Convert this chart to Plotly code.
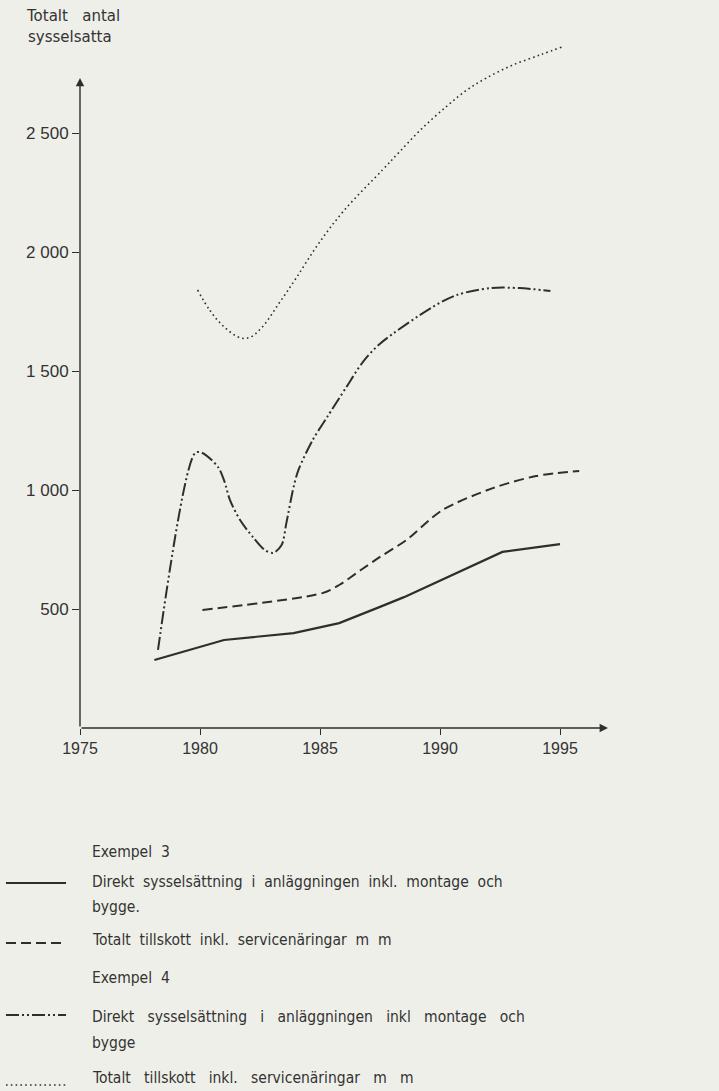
import plotly.graph_objects as go

# ---------------- data ----------------
ex3_direct_years = [1978.1, 1981.0, 1983.9, 1985.8, 1987.5, 1988.5, 1992.6, 1995.0]
ex3_direct_vals = [286, 370, 399, 441, 509, 550, 740, 773]

ex3_total_years = [1980.1, 1985.1, 1985.8, 1986.7, 1987.5, 1988.6, 1990.1, 1992.2, 1994.0, 1995.8]
ex3_total_vals = [496, 567, 601, 664, 719, 790, 916, 1008, 1059, 1080]

ex4_direct_years = [1978.25, 1979.8, 1980.1, 1980.75, 1981.0, 1981.25, 1981.67, 1982.2,
                    1982.7, 1983.05, 1983.4, 1983.6, 1983.9, 1984.1, 1984.7, 1985.3,
                    1986.1, 1986.8, 1987.5, 1989.7, 1990.7, 1992.1, 1993.3, 1994.6]
ex4_direct_vals = [328, 1156, 1156, 1097, 1042, 958, 874, 803,
                   748, 736, 769, 862, 1013, 1084, 1211, 1307,
                   1433, 1540, 1615, 1770, 1820, 1849, 1849, 1837]

ex4_total_years = [1979.9, 1980.4, 1981.0, 1981.7, 1982.1, 1982.6, 1983.3, 1984.0,
                   1984.9, 1986.0, 1987.6, 1988.3, 1989.2, 1990.3, 1991.1, 1991.9,
                   1993.0, 1994.2, 1995.1]
ex4_total_vals = [1841, 1757, 1686, 1639, 1643, 1686, 1786, 1890,
                  2030, 2175, 2345, 2420, 2515, 2615, 2680, 2730,
                  2785, 2830, 2863]

x_tick_vals = [1975, 1980, 1985, 1990, 1995]
x_tick_text = ["1975", "1980", "1985", "1990", "1995"]
y_tick_vals = [500, 1000, 1500, 2000, 2500]
y_tick_text = ["500", "1 000", "1 500", "2 000", "2 500"]

y_title_lines = ["Totalt antal", "sysselsatta"]
group_titles = ["Exempel 3", "Exempel 4"]
series_names = [
    "Direkt sysselsättning i anläggningen inkl. montage och",
    "Totalt tillskott inkl. servicenäringar m m",
    "Direkt sysselsättning i anläggningen inkl montage och",
    "Totalt tillskott inkl. servicenäringar m m",
]
name_continuation = ["bygge.", None, "bygge", None]

# ---------------- styling ----------------
BG = "#efefe9"
INK = "#2e2e2e"
TXT = "#333333"
FONT = "Liberation Sans"
LFONT = "DejaVu Sans Condensed, Liberation Sans Narrow, Liberation Sans, sans-serif"
TFONT = "DejaVu Sans, sans-serif"
gap_counts = [2, 2, 3, 3]  # word gaps (in spaces) of the typewritten legend rows

styles = [
    dict(width=2.2, dash="solid", shape="linear", smoothing=None),
    dict(width=2.0, dash="10px,5px", shape="spline", smoothing=0.8),
    dict(width=2.0, dash="13px,3px,2px,3px,2px,3px", shape="spline", smoothing=0.85),
    dict(width=1.6, dash="1.6px,3.2px", shape="spline", smoothing=1.0),
]
series = [
    (ex3_direct_years, ex3_direct_vals),
    (ex3_total_years, ex3_total_vals),
    (ex4_direct_years, ex4_direct_vals),
    (ex4_total_years, ex4_total_vals),
]

# plot-area geometry (pixels)
W, H = 719, 1091
PL, PR, PT, PB = 80, 632, 38, 728
PW, PH = PR - PL, PB - PT


def px_x(px):
    return (px - PL) / PW


def px_y(py):
    return (PB - py) / PH


def spaced(s, n=2):
    return s.replace(" ", "\u00a0" * (n - 1) + " ")


fig = go.Figure()
for (xs, ys), st, nm in zip(series, styles, series_names):
    line = dict(color=INK, width=st["width"], dash=st["dash"], shape=st["shape"])
    if st["smoothing"] is not None:
        line["smoothing"] = st["smoothing"]
    fig.add_trace(go.Scatter(x=xs, y=ys, mode="lines", name=nm, showlegend=False,
                             line=line, hoverinfo="skip"))

annotations = []
shapes = []

# axis arrows
annotations.append(dict(x=1997.0, y=0, ax=1975, ay=0, xref="x", yref="y", axref="x", ayref="y",
                        text="", showarrow=True, arrowhead=2, arrowsize=1.2, arrowwidth=1.4,
                        arrowcolor=INK, standoff=0, startstandoff=0))
annotations.append(dict(x=1975, y=2732, ax=1975, ay=0, xref="x", yref="y", axref="x", ayref="y",
                        text="", showarrow=True, arrowhead=2, arrowsize=1.2, arrowwidth=1.4,
                        arrowcolor=INK, standoff=0, startstandoff=0))

# y-axis title (two lines)
for txt, xl, yc in zip(y_title_lines, [24, 26], [16, 37]):
    annotations.append(dict(x=px_x(xl), y=px_y(yc), xref="paper", yref="paper",
                            text=spaced(txt, 3),
                            showarrow=False, xanchor="left", yanchor="middle",
                            font=dict(family=TFONT, size=15, color=TXT)))

# legend (drawn as key lines + text)
TEXT_X = 90
rows = [
    ("title", group_titles[0], 852),
    ("item", 0, 882),
    ("cont", 0, 907),
    ("item", 1, 940),
    ("title", group_titles[1], 978),
    ("item", 2, 1017),
    ("cont", 2, 1043),
    ("item", 3, 1078),
]
key_y = {0: 883, 1: 943, 2: 1015, 3: 1085}
for kind, ref, yc in rows:
    n = 2
    if kind == "title":
        txt = ref
    elif kind == "item":
        txt = series_names[ref]
        n = gap_counts[ref]
        st = styles[ref]
        shapes.append(dict(type="line", xref="paper", yref="paper",
                           x0=px_x(6), x1=px_x(66), y0=px_y(key_y[ref]), y1=px_y(key_y[ref]),
                           line=dict(color=INK, width=st["width"], dash=st["dash"])))
    else:
        txt = name_continuation[ref]
    annotations.append(dict(x=px_x(TEXT_X), y=px_y(yc), xref="paper", yref="paper",
                            text=spaced(txt, n),
                            showarrow=False, xanchor="left", yanchor="middle",
                            font=dict(family=LFONT, size=15.5, color=TXT)))

fig.update_layout(
    width=W, height=H,
    margin=dict(l=PL, r=W - PR, t=PT, b=H - PB, pad=0),
    paper_bgcolor=BG, plot_bgcolor=BG,
    showlegend=False,
    font=dict(family=FONT, color=TXT),
    xaxis=dict(range=[1975, 1998], tickvals=x_tick_vals, ticktext=x_tick_text,
               ticks="outside", ticklen=6, tickwidth=1.2, tickcolor=INK,
               showgrid=False, zeroline=False, showline=False,
               tickfont=dict(family=FONT, size=16, color=TXT)),
    yaxis=dict(range=[0, 2900], tickvals=y_tick_vals, ticktext=y_tick_text,
               ticks="outside", ticklen=7, tickwidth=1.2, tickcolor=INK,
               showgrid=False, zeroline=False, showline=False,
               tickfont=dict(family=FONT, size=17, color=TXT)),
    annotations=annotations,
    shapes=shapes,
)

fig.write_html(
    "out.html",
    config={"displayModeBar": False},
    post_script="document.body.style.margin='0';document.body.style.background='%s';" % BG,
)
